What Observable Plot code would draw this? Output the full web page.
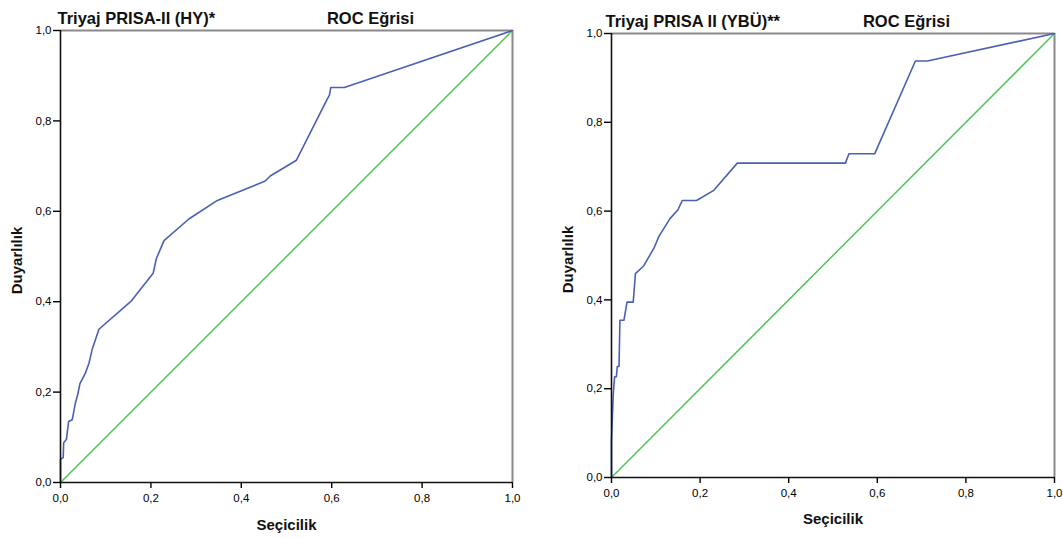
<!DOCTYPE html>
<html>
<head>
<meta charset="utf-8">
<script src="https://cdn.jsdelivr.net/npm/d3@7"></script>
<script src="https://cdn.jsdelivr.net/npm/@observablehq/plot@0.6"></script>
<style>
  html, body { margin: 0; padding: 0; background: #fff; }
  #wrap { position: relative; width: 1063px; height: 538px; overflow: hidden; background: #fff; }
  #wrap > div, #wrap > svg { position: absolute; top: 0; }
</style>
</head>
<body>
<div id="wrap"></div>
<script>
// ---- data ----
const leftFpr = [0, 0, 0.006, 0.007, 0.013, 0.018, 0.026, 0.033, 0.038, 0.043, 0.055, 0.063, 0.070, 0.085, 0.157, 0.205, 0.212, 0.229, 0.284, 0.347, 0.453, 0.464, 0.522, 0.589, 0.595, 0.598, 0.628, 1];
const leftTpr = [0, 0.051, 0.055, 0.088, 0.095, 0.135, 0.139, 0.176, 0.194, 0.219, 0.242, 0.264, 0.294, 0.339, 0.402, 0.463, 0.495, 0.535, 0.583, 0.624, 0.667, 0.678, 0.713, 0.846, 0.857, 0.874, 0.874, 1];
const rightFpr = [0, 0, 0.004, 0.007, 0.011, 0.013, 0.017, 0.019, 0.028, 0.035, 0.049, 0.054, 0.073, 0.097, 0.107, 0.132, 0.150, 0.160, 0.192, 0.230, 0.284, 0.528, 0.536, 0.594, 0.686, 0.713, 1];
const rightTpr = [0, 0.083, 0.188, 0.227, 0.227, 0.250, 0.250, 0.354, 0.354, 0.395, 0.395, 0.459, 0.477, 0.519, 0.543, 0.583, 0.603, 0.624, 0.624, 0.646, 0.708, 0.708, 0.729, 0.729, 0.938, 0.938, 1];
const refLine = [0, 1];
const tickValues = [0, 0.2, 0.4, 0.6, 0.8, 1.0];
const titles = ["Triyaj PRISA-II (HY)*", "Triyaj PRISA II (YBÜ)**"];
const rocTitle = "ROC Eğrisi";
const xLabel = "Seçicilik";
const yLabel = "Duyarlılık";

const fmt = d => d.toFixed(1).replace(".", ",");
const FONT = "'Liberation Sans', Arial, sans-serif";
const BLUE = "#4a60b4";
const GREEN = "#52c45c";

function panel(cfg) {
  const curve = cfg.fpr.map((x, i) => ({x, y: cfg.tpr[i]}));
  const diag = refLine.map(v => ({x: v, y: v}));
  const frameCx = cfg.mL + (cfg.width - cfg.mL - cfg.mR) / 2;
  return Plot.plot({
    width: cfg.width,
    height: 538,
    marginLeft: cfg.mL, marginRight: cfg.mR, marginTop: cfg.mT, marginBottom: cfg.mB,
    style: {fontFamily: FONT, fontSize: "11.5px", color: "#000", background: "transparent", overflow: "visible"},
    x: {domain: [0, 1]},
    y: {domain: [0, 1]},
    marks: [
      Plot.ruleY([1], {stroke: "#8a8a8a", strokeWidth: 2}),
      Plot.ruleX([1], {stroke: "#8a8a8a", strokeWidth: 2}),
      Plot.line(diag, {x: "x", y: "y", stroke: GREEN, strokeWidth: 1.5}),
      Plot.line(curve, {x: "x", y: "y", stroke: BLUE, strokeWidth: 1.6}),
      Plot.ruleX([0], {stroke: "#111", strokeWidth: 1.6}),
      Plot.ruleY([0], {stroke: "#111", strokeWidth: 1.6}),
      Plot.axisX({ticks: tickValues, tickFormat: fmt, tickSize: 6, tickPadding: 5, label: null, strokeWidth: 1.4, fontSize: 11.5}),
      Plot.axisY({ticks: tickValues, tickFormat: fmt, tickSize: 7, tickPadding: 2, label: null, strokeWidth: 1.4, fontSize: 11.5}),
      Plot.text([cfg.title], {frameAnchor: "top-left", textAnchor: "start", lineAnchor: "bottom", dx: cfg.titleDx, dy: cfg.titleDy, fontSize: 16.5, fontWeight: "bold", fontFamily: FONT, fill: "#111"}),
      Plot.text([rocTitle], {frameAnchor: "top", textAnchor: "middle", lineAnchor: "bottom", dx: cfg.rocCx - frameCx, dy: cfg.titleDy, fontSize: 16.5, fontWeight: "bold", fontFamily: FONT, fill: "#111"}),
      Plot.text([xLabel], {frameAnchor: "bottom", textAnchor: "middle", lineAnchor: "bottom", dy: cfg.xLabDy, fontSize: 15, fontWeight: "bold", fontFamily: FONT, fill: "#111"}),
      Plot.text([yLabel], {frameAnchor: "left", textAnchor: "middle", lineAnchor: "bottom", rotate: -90, dx: -39, dy: 4, fontSize: 15, fontWeight: "bold", fontFamily: FONT, fill: "#111"})
    ]
  });
}

const wrap = document.getElementById("wrap");
const left = panel({fpr: leftFpr, tpr: leftTpr, title: titles[0], width: 530, mL: 60, mR: 18, mT: 30, mB: 56, titleDx: -3, titleDy: -6.5, rocCx: 370, xLabDy: 47});
left.style.left = "0px";
wrap.appendChild(left);
const right = panel({fpr: rightFpr, tpr: rightTpr, title: titles[1], width: 533, mL: 81, mR: 9, mT: 33, mB: 61, titleDx: -6, titleDy: -7, rocCx: 376, xLabDy: 46});
right.style.left = "530px";
wrap.appendChild(right);
</script>
</body>
</html>
